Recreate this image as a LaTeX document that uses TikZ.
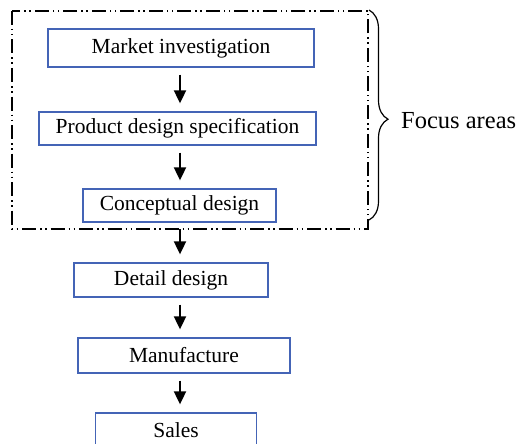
\documentclass[tikz,border=0pt]{standalone}
\usepackage{fontspec}
\setmainfont{Liberation Serif}
\usetikzlibrary{arrows.meta,decorations.pathreplacing}
\definecolor{boxblue}{RGB}{68,100,182}
\begin{document}
\begin{tikzpicture}[x=1pt, y=-1pt,
    font=\fontsize{21.5}{25}\selectfont,
    stage/.style={draw=boxblue, line width=1.3pt, inner sep=0pt},
    flow/.style={line width=1.9pt, -{Triangle[length=13pt,width=12pt]}, shorten <=7pt, shorten >=8pt},
    area/.style={line width=1.3pt, dash pattern=on 14pt off 4pt on 1.5pt off 3.5pt on 1.5pt off 4pt}]
          \clip (0,0) rectangle (522,444);

          \coordinate (ax) at (180,0);

          \node[stage, minimum width=266pt, minimum height=38pt] (mi) at (181,48) {Market investigation};
          \node[stage, minimum width=277pt, minimum height=33pt] (pds) at (177.5,128.5) {Product design specification};
          \node[stage, minimum width=193pt, minimum height=33pt] (cd) at (179.5,205.5) {Conceptual design};
          \node[stage, minimum width=194pt, minimum height=34pt] (dd) at (171,280) {Detail design};
          \node[stage, minimum width=212pt, minimum height=35pt] (mf) at (184,355.5) {Manufacture};
          \node[stage, minimum width=161pt, minimum height=34pt] (sa) at (176,430) {Sales};

          % dash-dot-dot frame round the first three stages
          \coordinate (tl) at (12,11);
          \coordinate (br) at (368,229);
          \draw[area] (tl) rectangle (br);

          \draw[flow] (mi.south -| ax) -- (pds.north -| ax);
          \draw[flow] (pds.south -| ax) -- (cd.north -| ax);
          \draw[flow, shorten <=0pt] (br -| ax) -- (dd.north -| ax);
          \draw[flow] (dd.south -| ax) -- (mf.north -| ax);
          \draw[flow] (mf.south -| ax) -- (sa.north -| ax);

          \coordinate (bt) at (369,10);
          \coordinate (bb) at (369,220);
          \draw[line width=1.2pt, decorate, decoration={brace, amplitude=19pt, aspect=0.52}] (bt) -- (bb);
          \node[anchor=west, inner sep=0pt, font=\fontsize{24.5}{28}\selectfont] (fa) at (401,121) {Focus areas};
\end{tikzpicture}
\end{document}
